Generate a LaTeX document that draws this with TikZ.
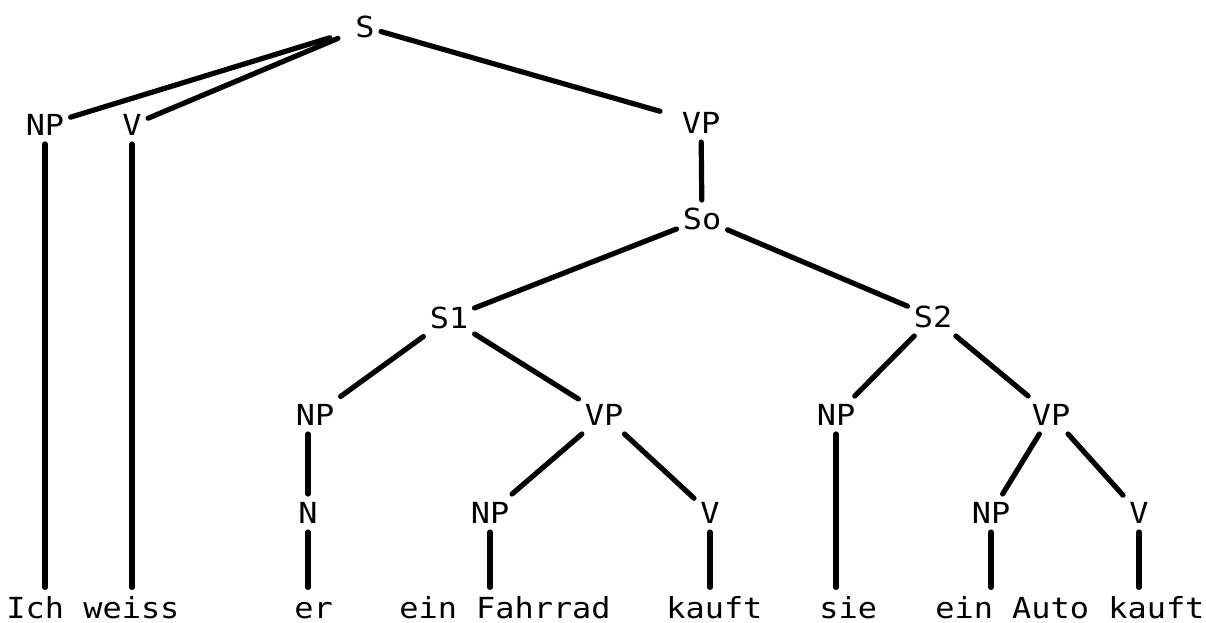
\documentclass[tikz,border=0pt]{standalone}
\usepackage{fontspec}
\newfontfamily\treefont[FakeStretch=1.1]{DejaVu Sans Mono}
\begin{document}
\begin{tikzpicture}[x=0.5pt,y=-0.5pt,
  lbl/.style={font=\treefont\fontsize{14.5pt}{16pt}\selectfont, text height=10.6pt, text depth=0pt, inner xsep=3pt, inner ysep=4pt},
  leaf/.style={lbl, inner xsep=0pt, inner ysep=4.5pt, anchor=base west},
  branch/.style={line width=2.6pt, line cap=round}]
\useasboundingbox (0,0) rectangle (1206,622);
% internal labels
\node[lbl] (S)   at (365,27)  {S};
\node[lbl] (NPa) at (45,125)  {NP};
\node[lbl] (Va)  at (132,125) {V};
\node[lbl] (VPa) at (701,123) {VP};
\node[lbl] (So)  at (702,219) {So};
\node[lbl] (Sone) at (449,318) {S1};
\node[lbl] (Stwo) at (933,317) {S2};
\node[lbl] (NPb) at (315,415) {NP};
\node[lbl] (VPb) at (604,415) {VP};
\node[lbl] (NPc) at (836,415) {NP};
\node[lbl] (VPc) at (1051,415) {VP};
\node[lbl] (N)   at (308,513) {N};
\node[lbl] (NPd) at (490,513) {NP};
\node[lbl] (Vb)  at (710,513) {V};
\node[lbl] (NPe) at (991,513) {NP};
\node[lbl] (Vc)  at (1139,513) {V};
% leaves
\node[leaf] (ich)   at (6,618)    {Ich};
\node[leaf] (weiss) at (83,618)   {weiss};
\node[leaf] (er)    at (294,618)  {er};
\node[leaf] (fahr)  at (399,618)  {ein Fahrrad};
\node[leaf] (kaufa) at (666,618)  {kauft};
\node[leaf] (sie)   at (819,618)  {sie};
\node[leaf] (auto)  at (935,618)  {ein Auto};
\node[leaf] (kaufb) at (1108,618) {kauft};
% branches
\draw[branch, shorten <=10pt] (S) -- (NPa);
\draw[branch, shorten <=6pt] (S) -- (Va);
\draw[branch, shorten >=8pt] (S) -- (VPa);
\draw[branch] (VPa) -- (So);
\draw[branch] (So) -- (Sone);
\draw[branch] (So) -- (Stwo);
\draw[branch] (Sone) -- (NPb);
\draw[branch] (Sone) -- (VPb);
\draw[branch] (Stwo) -- (NPc);
\draw[branch] (Stwo) -- (VPc);
\draw[branch] (N |- NPb.south) -- (N);
\draw[branch] (VPb) -- (NPd);
\draw[branch] (VPb) -- (Vb);
\draw[branch] (VPc) -- (NPe);
\draw[branch] (VPc) -- (Vc);
% leaf lines
\draw[branch] (NPa) -- (NPa |- ich.north);
\draw[branch] (Va) -- (Va |- weiss.north);
\draw[branch] (N) -- (N |- er.north);
\draw[branch] (NPd) -- (NPd |- fahr.north);
\draw[branch] (Vb) -- (Vb |- kaufa.north);
\draw[branch] (NPc) -- (NPc |- sie.north);
\draw[branch] (NPe) -- (NPe |- auto.north);
\draw[branch] (Vc) -- (Vc |- kaufb.north);
\end{tikzpicture}
\end{document}
